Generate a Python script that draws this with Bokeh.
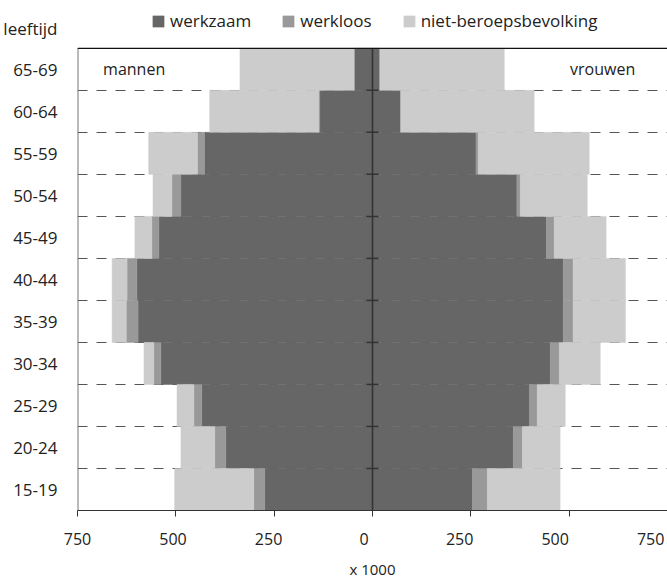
import numpy as np
from bokeh.plotting import figure
from bokeh.models import FixedTicker, Legend, LegendItem, Label, Span, Range1d, LinearAxis
from bokeh.embed import file_html
from bokeh.resources import INLINE

age_groups = ["15-19", "20-24", "25-29", "30-34", "35-39", "40-44",
              "45-49", "50-54", "55-59", "60-64", "65-69"]
men_werkzaam = [274, 373, 434, 538, 596, 599, 543, 487, 427, 134, 46]
men_werkloos = [28, 28, 20, 18, 30, 25, 18, 23, 18, 3, 1]
men_niet = [201, 86, 43, 25, 36, 38, 43, 48, 124, 277, 290]
women_werkzaam = [254, 358, 399, 452, 485, 485, 442, 367, 263, 71, 18]
women_werkloos = [38, 23, 20, 23, 25, 25, 20, 9, 6, 1, 1]
women_niet = [185, 96, 71, 104, 133, 133, 132, 170, 282, 339, 316]
x_ticks = [-750, -500, -250, 0, 250, 500, 750]
series_names = ["werkzaam", "werkloos", "niet-beroepsbevolking"]
axis_title_y = "leeftijd"
axis_title_x = "x 1000"
colors = ["#666666", "#999999", "#cccccc"]

FONT = "Open Sans"
TXT = "#222222"
FS = "16px"
FS_L = "17px"

W, H = 667, 581
BL, BB = 76, 69
n = len(age_groups)
centers = np.arange(n) + 0.5
boundaries = list(range(1, n))
frame_h = H - BB
row_px = 464 / n
y_top = frame_h / row_px          # frame reaches the top of the canvas

p = figure(width=W, height=H, output_backend="svg", toolbar_location=None,
           x_range=Range1d(x_ticks[0], x_ticks[-1]), y_range=Range1d(0, y_top),
           min_border_left=BL, min_border_right=0, min_border_top=0,
           min_border_bottom=BB)
p.outline_line_color = None
p.background_fill_color = "white"

# grid (dashed lines between age groups)
p.xgrid.grid_line_color = None
p.ygrid.ticker = FixedTicker(ticks=boundaries)
p.ygrid.grid_line_color = "#555555"
p.ygrid.grid_line_dash = "10 9"
p.ygrid.grid_line_width = 1

# bars
def stacked(sign, parts):
    cum = np.zeros(n)
    rs = []
    for vals, col in zip(parts, colors):
        v = np.array(vals, dtype=float)
        a, b = cum, cum + v
        left = sign * b if sign < 0 else a
        right = sign * a if sign < 0 else b
        r = p.hbar(y=centers, height=1, left=left, right=right,
                   fill_color=col, line_color=col, line_width=0.5)
        rs.append(r)
        cum = b
    return rs

men_r = stacked(-1, [men_werkzaam, men_werkloos, men_niet])
women_r = stacked(1, [women_werkzaam, women_werkloos, women_niet])

# plot box: top and left edges
p.add_layout(Span(location=n, dimension="width", line_color="#111111", line_width=1.2))
p.segment(x0=[x_ticks[0]], y0=[0], x1=[x_ticks[0]], y1=[n], line_color="#777777", line_width=2)

# center axis with ticks
p.segment(x0=[0], y0=[0], x1=[0], y1=[n], line_color="#333333", line_width=1.6)
p.scatter(x=[0] * len(boundaries), y=boundaries, marker="dash", size=12,
          line_color="#333333", line_width=1.5)

# x axis: line and tick marks (its own labels are not drawn)
xa = p.xaxis[0]
xa.ticker = FixedTicker(ticks=x_ticks)
xa.major_tick_out = 6
xa.major_tick_in = 0
xa.minor_tick_line_color = None
xa.axis_line_color = "#333333"
xa.major_tick_line_color = "#333333"
xa.major_label_text_color = None
xa.major_label_text_font_size = "1px"
xa.major_label_standoff = 0

# x axis: tick labels (set slightly tighter, as in the original)
p.extra_x_ranges = {"labels": Range1d(x_ticks[0], x_ticks[-1] + 44)}
xl = LinearAxis(x_range_name="labels", ticker=FixedTicker(ticks=x_ticks))
xl.major_label_overrides = {t: str(abs(t)) for t in x_ticks}
xl.axis_line_color = None
xl.major_tick_line_color = None
xl.minor_tick_line_color = None
xl.major_label_standoff = 10
xl.major_label_text_font = FONT
xl.major_label_text_font_size = FS
xl.major_label_text_color = TXT
xl.axis_label = axis_title_x
xl.axis_label_text_font = FONT
xl.axis_label_text_font_size = "15px"
xl.axis_label_text_font_style = "normal"
xl.axis_label_text_color = TXT
xl.axis_label_standoff = 11
p.add_layout(xl, "below")

# y axis (age groups, plus the "leeftijd" heading above them)
title_pos = n + 0.47
p.yaxis.ticker = FixedTicker(ticks=list(centers) + [title_pos])
ov = {float(c): g for c, g in zip(centers, age_groups)}
ov[title_pos] = axis_title_y
p.yaxis.major_label_overrides = ov
p.yaxis.major_tick_line_color = None
p.yaxis.minor_tick_line_color = None
p.yaxis.axis_line_color = None
p.yaxis.major_label_standoff = 14
p.yaxis.major_label_text_font = FONT
p.yaxis.major_label_text_font_size = FS_L
p.yaxis.major_label_text_color = TXT

# panel labels
p.add_layout(Label(x=-685, y=centers[-1], text="mannen", text_align="left",
                   text_baseline="middle", text_font=FONT, text_font_size=FS,
                   text_color=TXT))
p.add_layout(Label(x=668, y=centers[-1], text="vrouwen", text_align="right",
                   text_baseline="middle", text_font=FONT, text_font_size=FS,
                   text_color=TXT))

legend = Legend(items=[LegendItem(label=nm, renderers=[r]) for nm, r in zip(series_names, men_r)],
                orientation="horizontal", location=(74, 478),
                glyph_width=14, glyph_height=14, label_standoff=5, spacing=30,
                padding=0, margin=0, border_line_color=None, background_fill_alpha=0,
                label_text_font=FONT, label_text_font_size=FS_L, label_text_color=TXT,
                label_height=14)
p.add_layout(legend)

open("out.html", "w").write(file_html(p, INLINE))
